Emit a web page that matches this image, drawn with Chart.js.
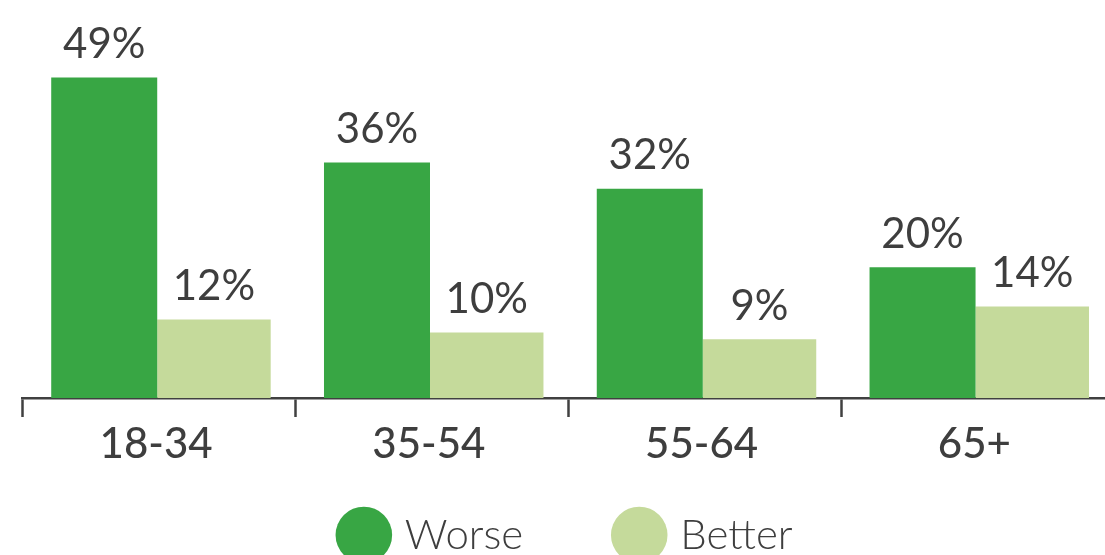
<!DOCTYPE html>
<html>
<head>
<meta charset="utf-8">
<script src="https://cdn.jsdelivr.net/npm/chart.js@4"></script>
<style>
  html, body { margin: 0; padding: 0; background: #fff; overflow: hidden; }
  #wrap { position: relative; width: 1140px; height: 566px; }
</style>
</head>
<body>
<div id="wrap"><canvas id="myChart"></canvas></div>
<script>
const categories = ['18-34', '35-54', '55-64', '65+'];
const worse = [49, 36, 32, 20];
const better = [12, 10, 9, 14];
const seriesNames = ['Worse', 'Better'];

const textColor = '#3e3e3e';

// draws the "49%" style labels over each bar
const valueLabels = {
  id: 'valueLabels',
  afterDatasetsDraw(chart) {
    const ctx = chart.ctx;
    ctx.save();
    ctx.font = '42px Lato';
    ctx.fillStyle = textColor;
    ctx.textAlign = 'center';
    ctx.textBaseline = 'alphabetic';
    chart.data.datasets.forEach((ds, i) => {
      chart.getDatasetMeta(i).data.forEach((bar, j) => {
        ctx.fillText(ds.data[j] + '%', bar.x, bar.y - 19.5);
      });
    });
    ctx.restore();
  }
};

// the x axis is squeezed so the legend sits close under it,
// give its label clip area the real room back after layout
const roomForTicks = {
  id: 'roomForTicks',
  afterLayout(chart) {
    const x = chart.scales.x;
    x.bottom = x.top + 90;
    x.height = 90;
  }
};

const ctx = document.getElementById('myChart');

new Chart(ctx, {
  type: 'bar',
  data: {
    labels: categories,
    datasets: [{
      label: seriesNames[0],
      data: worse,
      backgroundColor: '#38a644',
      barPercentage: 0.966,
      categoryPercentage: 0.8046
    }, {
      label: seriesNames[1],
      data: better,
      backgroundColor: '#c5da9b',
      barPercentage: 1.034,
      categoryPercentage: 0.8046
    }]
  },
  options: {
    responsive: true,
    maintainAspectRatio: false,
    animation: false,
    layout: {
      padding: { top: 71, left: 22.7, right: 26.2, bottom: 0 }
    },
    plugins: {
      tooltip: { enabled: false },
      legend: {
        position: 'bottom',
        labels: {
          usePointStyle: true,
          pointStyle: 'circle',
          boxWidth: 40,
          boxHeight: 40,
          color: textColor,
          padding: 96,
          font: { family: 'Lato', size: 42, weight: 300 }
        }
      }
    },
    scales: {
      x: {
        grid: {
          offset: true,
          drawOnChartArea: false,
          drawTicks: true,
          tickLength: 19,
          tickWidth: 2.5,
          tickColor: '#404040'
        },
        border: { display: true, color: '#404040', width: 2.5 },
        ticks: {
          color: textColor,
          padding: 2,
          labelOffset: -3,
          font: { family: 'Lato', size: 42, weight: 500 }
        },
        afterFit(scale) {
          scale.height = 20;
        }
      },
      y: {
        display: false,
        min: 0,
        max: 50
      }
    }
  },
  plugins: [valueLabels, roomForTicks]
});
</script>
</body>
</html>
